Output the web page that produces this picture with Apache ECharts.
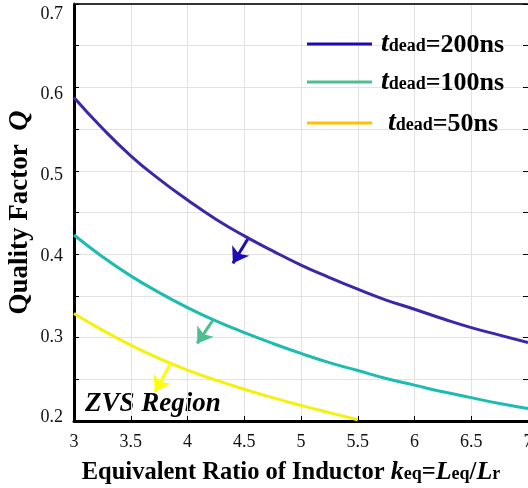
<!DOCTYPE html>
<html>
<head>
<meta charset="utf-8">
<script src="https://cdn.jsdelivr.net/npm/echarts@6/dist/echarts.min.js"></script>
<style>html,body{margin:0;padding:0;background:#fff;}#c{width:528px;height:488px;}</style>
</head>
<body>
<div id="c"></div>
<script>
var kValues = [3, 3.25, 3.5, 3.75, 4, 4.25, 4.5, 4.75, 5, 5.25, 5.5, 5.75, 6, 6.25, 6.5, 6.75, 7];
var q200 = [0.588, 0.551, 0.518, 0.490, 0.465, 0.442, 0.422, 0.404, 0.387, 0.372, 0.358, 0.345, 0.334, 0.3226, 0.312, 0.303, 0.294];
var q100 = [0.423, 0.397, 0.374, 0.354, 0.336, 0.320, 0.306, 0.293, 0.281, 0.270, 0.2605, 0.251, 0.243, 0.235, 0.228, 0.221, 0.215];
var q50 = [0.329, 0.309, 0.291, 0.275, 0.261, 0.249, 0.238, 0.228, 0.2187, 0.210, 0.2015];
var seriesNames = ['tdead=200ns', 'tdead=100ns', 'tdead=50ns'];
var lineColors = ['#3b27a8', '#1dbcb0', '#f4f20c'];
var legendColors = ['#1c0cb4', '#4cbf8e', '#ffc000'];
var arrowColors = ['#1c0cb4', '#4cbf8e', '#ffff00'];
var arrowCoords = [
  [[4.53, 0.418], [4.40, 0.389]],
  [[4.22, 0.320], [4.085, 0.293]],
  [[3.85, 0.269], [3.714, 0.235]]
];
var yTicks = { min: 0.2, max: 0.7, interval: 0.1 };
var xTicks = { min: 3, max: 7, interval: 0.5 };
var yLabelShift = { '0.7': 10, '0.6': 7, '0.5': 4, '0.4': 2, '0.3': 0, '0.2': -4 };

var FONT = '"Liberation Serif", "Times New Roman", serif';

function pairs(ys) { return ys.map(function (y, i) { return [kValues[i], y]; }); }
var allData = [q200, q100, q50];

var series = allData.map(function (d, i) {
  return {
    name: seriesNames[i], type: 'line', data: pairs(d), smooth: true,
    showSymbol: false, symbol: 'none', silent: true,
    lineStyle: { color: lineColors[i], width: 3 },
    itemStyle: { color: lineColors[i] },
    markLine: {
      silent: true, animation: false, symbol: ['none', 'arrow'], symbolSize: 15,
      label: { show: false },
      lineStyle: { color: arrowColors[i], width: 3, type: 'solid' },
      emphasis: { disabled: true },
      data: [[{ coord: arrowCoords[i][0] }, { coord: arrowCoords[i][1] }]]
    }
  };
});

var legendTops = [25, 63, 104];
var legendPads = [4, 4, 11];
var legends = seriesNames.map(function (n, i) {
  return {
    data: [{ name: n, icon: 'rect', itemStyle: { color: legendColors[i] } }],
    left: 302, top: legendTops[i], itemWidth: 65, itemHeight: 3,
    selectedMode: false, orient: 'vertical',
    formatter: function (name) {
      var rest = name.replace('tdead', '');
      return '{t|t}{d|dead}{n|' + rest + '}';
    },
    textStyle: {
      fontFamily: FONT, color: '#000',
      rich: {
        t: { fontFamily: FONT, fontStyle: 'italic', fontWeight: 'bold', fontSize: 28, lineHeight: 28, verticalAlign: 'bottom', padding: [0, 0, 0, legendPads[i]] },
        d: { fontFamily: FONT, fontWeight: 'bold', fontSize: 18, lineHeight: 28, verticalAlign: 'bottom', padding: [0, 0, 3, 0] },
        n: { fontFamily: FONT, fontWeight: 'bold', fontSize: 26, lineHeight: 28, verticalAlign: 'bottom' }
      }
    }
  };
});

var yRich = {};
Object.keys(yLabelShift).forEach(function (k, idx) {
  var s = yLabelShift[k];
  yRich['y' + idx] = {
    fontFamily: FONT, fontSize: 18, color: '#111',
    padding: s >= 0 ? [2 * s, 0, 0, 0] : [0, 0, -2 * s, 0]
  };
});
var yKeys = Object.keys(yLabelShift);

var chart = echarts.init(document.getElementById('c'), null, { renderer: 'canvas' });
chart.setOption({
  animation: false,
  backgroundColor: '#fff',
  grid: { left: 74, right: 0, top: 4, bottom: 67, containLabel: false, outerBoundsMode: 'none' },
  legend: legends,
  xAxis: [{
    type: 'value', position: 'bottom', min: xTicks.min, max: xTicks.max, interval: xTicks.interval,
    axisLine: { show: true, lineStyle: { color: '#000', width: 3 } },
    axisTick: { show: true, inside: true, length: 5, lineStyle: { color: '#000', width: 1 } },
    axisLabel: { fontFamily: FONT, fontSize: 18, color: '#111', margin: 12 },
    splitLine: { show: true, lineStyle: { color: '#e2e2e2', width: 1 } },
    name: '{a|Equivalent Ratio of Inductor }{i|k}{s|eq}{a|=}{i|L}{s|eq}{a|/}{i|L}{s|r}',
    nameLocation: 'middle', nameGap: 34, nameMoveOverlap: false,
    nameTextStyle: {
      padding: [0, 20, 0, 0],
      rich: {
        a: { fontFamily: FONT, fontWeight: 'bold', fontSize: 24.5, lineHeight: 30, color: '#000', verticalAlign: 'bottom' },
        i: { fontFamily: FONT, fontWeight: 'bold', fontStyle: 'italic', fontSize: 26, lineHeight: 30, color: '#000', verticalAlign: 'bottom' },
        s: { fontFamily: FONT, fontWeight: 'bold', fontSize: 18, lineHeight: 30, color: '#000', verticalAlign: 'bottom', padding: [0, 0, 2, 0] }
      }
    }
  }, {
    type: 'value', position: 'top', min: xTicks.min, max: xTicks.max, interval: xTicks.interval,
    axisLine: { show: true, lineStyle: { color: '#333', width: 2 } },
    axisTick: { show: false }, axisLabel: { show: false }, splitLine: { show: false }
  }],
  yAxis: [{
    type: 'value', position: 'left', min: yTicks.min, max: yTicks.max, interval: yTicks.interval,
    axisLine: { show: true, lineStyle: { color: '#000', width: 3 } },
    axisTick: { show: true, inside: true, length: 5, lineStyle: { color: '#000', width: 1 } },
    minorTick: { show: true, splitNumber: 2, length: 5, lineStyle: { color: '#000', width: 1 } },
    axisLabel: {
      fontFamily: FONT, fontSize: 18, color: '#111', margin: 11,
      formatter: function (v) {
        var t = v.toFixed(1);
        var idx = yKeys.indexOf(t);
        return idx >= 0 ? '{y' + idx + '|' + t + '}' : t;
      },
      rich: yRich
    },
    splitLine: { show: true, lineStyle: { color: '#e2e2e2', width: 1 } },
    minorSplitLine: { show: true, lineStyle: { color: '#e2e2e2', width: 1 } },
    name: '{a|Quality Factor  }{i|Q}',
    nameLocation: 'middle', nameGap: 40, nameRotate: 90, nameMoveOverlap: false,
    nameTextStyle: {
      rich: {
        a: { fontFamily: FONT, fontWeight: 'bold', fontSize: 27, lineHeight: 30, color: '#000', verticalAlign: 'bottom' },
        i: { fontFamily: FONT, fontWeight: 'bold', fontStyle: 'italic', fontSize: 28, lineHeight: 30, color: '#000', verticalAlign: 'bottom' }
      }
    }
  }, {
    type: 'value', position: 'right', min: yTicks.min, max: yTicks.max, interval: yTicks.interval,
    axisLine: { show: false },
    axisTick: { show: true, inside: true, length: 5, lineStyle: { color: '#000', width: 1 } },
    minorTick: { show: true, splitNumber: 2, length: 5, lineStyle: { color: '#000', width: 1 } },
    axisLabel: { show: false }, splitLine: { show: false }
  }],
  graphic: [{
    type: 'text', left: 85, top: 391, silent: true,
    style: { text: 'ZVS Region', font: 'italic bold 27px ' + FONT, fill: '#000' }
  }],
  series: series
});
</script>
</body>
</html>
